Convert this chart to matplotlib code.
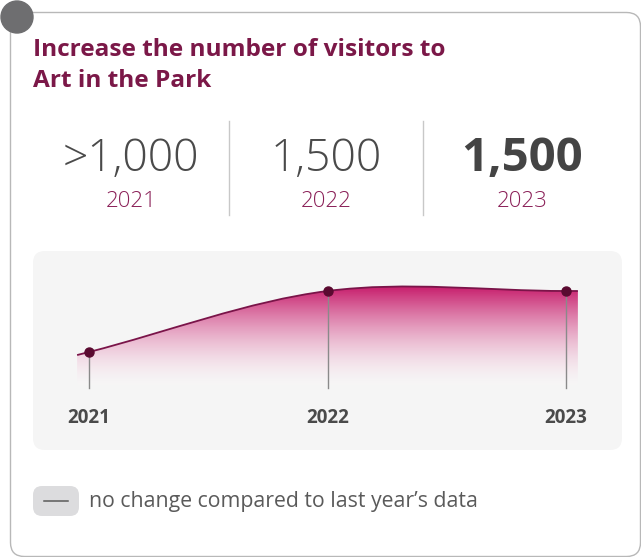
import numpy as np
import matplotlib.pyplot as plt
from matplotlib.patches import FancyBboxPatch, Circle, PathPatch
from matplotlib.path import Path

plt.rcParams['font.family'] = ['Open Sans', 'DejaVu Sans']

title_lines = ['Increase the number of visitors to', 'Art in the Park']
years = [2021, 2022, 2023]
values = [1000, 1500, 1500]
value_labels = ['>1,000', '1,500', '1,500']
legend_text = 'no change compared to last year\u2019s data'

maroon = '#7b1848'
year_col = '#8a1f57'
num_col = '#4a4a4a'

fig = plt.figure(figsize=(6.41, 5.57), dpi=100)
bg = fig.add_axes([0, 0, 1, 1])
bg.set_xlim(0, 641)
bg.set_ylim(557, 0)
bg.axis('off')

# card outline + corner dot
card = FancyBboxPatch((10.5, 12.5), 630, 544, boxstyle='round,pad=0,rounding_size=14',
                      fc='white', ec='#b8b8b8', lw=1)
bg.add_patch(card)
bg.add_patch(Circle((17, 17), 16, color='#6e6e70', zorder=5))

for yy, line in zip([56, 87], title_lines):
    bg.text(33, yy, line, color=maroon, fontsize=17.6, fontweight='bold',
            va='baseline', ha='left')

# headline numbers
centers = [131, 326, 522]
for i, (cx, lab, yr) in enumerate(zip(centers, value_labels, years)):
    last = i == len(years) - 1
    bg.text(cx, 171, lab, ha='center', va='baseline', color=num_col if not last else '#444444',
            fontsize=34 if last else 32, fontweight='bold' if last else 'light')
    bg.text(cx, 207, str(yr), ha='center', va='baseline', color=year_col, fontsize=16,
            fontweight='light')
for dx in [229, 422.5]:
    bg.plot([dx, dx], [121, 215], color='#c8c8c8', lw=1)

# chart panel
bg.add_patch(FancyBboxPatch((33, 251), 589, 199, boxstyle='round,pad=0,rounding_size=12',
                            fc='#f5f5f5', ec='none'))

# legend
bg.add_patch(FancyBboxPatch((33, 486), 46, 30, boxstyle='round,pad=0,rounding_size=9',
                            fc='#dcdcde', ec='none'))
bg.plot([44, 68], [501, 501], color='#5a5a5a', lw=1.1)
bg.text(89, 501, legend_text, ha='left', va='center', color='#5a5a5a', fontsize=15.3)

# area chart
ax = fig.add_axes([33 / 641, (557 - 450) / 557, 589 / 641, 199 / 557])
ax.axis('off')
ax.patch.set_alpha(0)

x = np.array(years, dtype=float)
y = np.array(values, dtype=float)
m = np.gradient(y, x)
x0, x1 = x[0] - 0.05, x[-1] + 0.05
y0 = y[0] - m[0] * 0.05
y1 = y[-1] + m[-1] * 0.05
base = 705

verts = [(x0, base), (x0, y0), (x[0], y[0])]
codes = [Path.MOVETO, Path.LINETO, Path.LINETO]
line_verts = [(x0, y0), (x[0], y[0])]
line_codes = [Path.MOVETO, Path.LINETO]
for i in range(len(x) - 1):
    h = x[i + 1] - x[i]
    seg = [(x[i] + h / 3, y[i] + m[i] * h / 3),
           (x[i + 1] - h / 3, y[i + 1] - m[i + 1] * h / 3),
           (x[i + 1], y[i + 1])]
    verts += seg
    codes += [Path.CURVE4] * 3
    line_verts += seg
    line_codes += [Path.CURVE4] * 3
verts += [(x1, y1), (x1, base), (x0, base)]
codes += [Path.LINETO, Path.LINETO, Path.CLOSEPOLY]
line_verts += [(x1, y1)]
line_codes += [Path.LINETO]

area = PathPatch(Path(verts, codes), fc='none', ec='none')
ax.add_patch(area)

top = 1540
n = 256
t = np.linspace(0, 1, n)[:, None]
top_rgb = np.array([0.78, 0.11, 0.42])
rgba = np.zeros((n, 1, 4))
rgba[..., :3] = (1 - t[..., None]) * 1.0 + t[..., None] * top_rgb
rgba[..., 3] = 0.05 + 0.95 * t ** 0.7
img = ax.imshow(rgba, extent=[x0, x1, base, top], origin='lower', aspect='auto',
                interpolation='bilinear', zorder=1)
img.set_clip_path(area)

ax.add_patch(PathPatch(Path(line_verts, line_codes), fc='none', ec='#7a1449', lw=1.3, zorder=3))

for xi, yi in zip(x, y):
    ax.plot([xi, xi], [base, yi], color='#8a8a8a', lw=1, zorder=2)
ax.plot(x, y, 'o', color='#5a0a30', ms=6.5, zorder=4)

for yr in years:
    ax.text(yr, 459, str(yr), ha='center', va='center', color='#4a4a4a', fontsize=13.5,
            fontweight='bold')

ax.set_xlim(2020.765, 2023.235)
ax.set_ylim(196.7, 1827.9)

fig.savefig('out.png', dpi=100)
